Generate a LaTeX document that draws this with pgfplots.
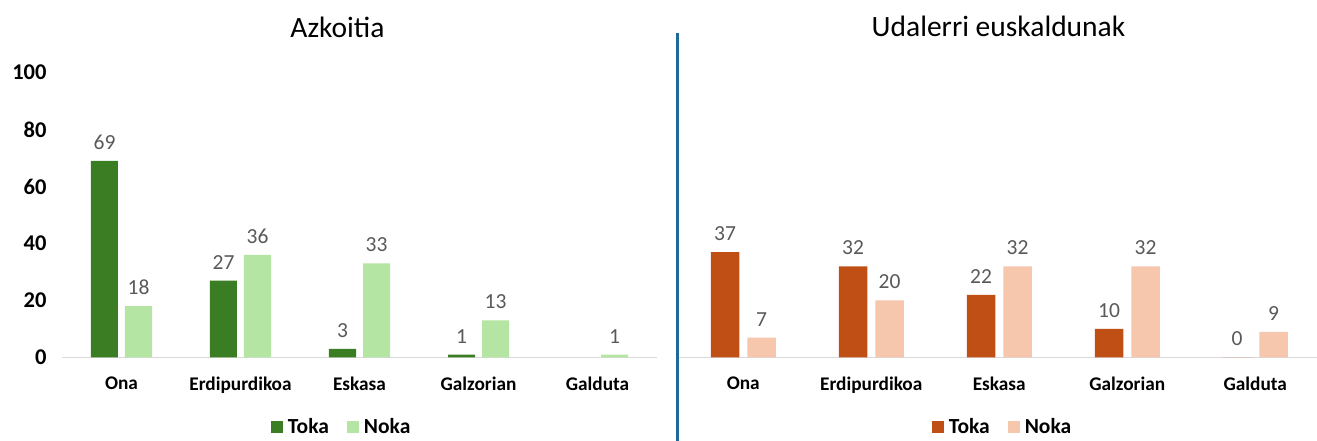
\documentclass[border=0pt]{standalone}
\usepackage{fontspec}
\setmainfont{Carlito}
\usepackage{pgfplots}
\pgfplotsset{compat=1.18}
\definecolor{tokaG}{HTML}{3A7D22}
\definecolor{nokaG}{HTML}{B4E5A2}
\definecolor{tokaO}{HTML}{C04F15}
\definecolor{nokaO}{HTML}{F6C6AD}
\definecolor{valgray}{HTML}{595959}
\definecolor{sepblue}{HTML}{1F6A94}
\definecolor{basegray}{HTML}{D9D9D9}
\pgfplotsset{
  /pgf/number format/assume math mode=true,
  panel/.style={
    scale only axis, height=285pt, anchor=south west,
    ybar, ymin=0, ymax=100, xmin=-0.5, xmax=4.5,
    xtick={0,1,2,3,4},
    xticklabels={Ona,Erdipurdikoa,Eskasa,Galzorian,Galduta},
    x tick label style={font=\fontsize{19.3}{21}\selectfont\bfseries, yshift=-12pt},
    axis x line*=bottom,
    x axis line style={draw=basegray, line width=1.5pt, -},
    tick style={draw=none},
    nodes near coords,
    every node near coord/.append style={font=\fontsize{21.5}{23}\selectfont, color=valgray, yshift=8pt},
    legend columns=2,
    legend style={draw=none, fill=none, anchor=center,
      font=\fontsize{21.5}{24}\selectfont\bfseries,
      /tikz/every even column/.append style={column sep=16pt}},
    legend image code/.code={\fill[##1] (0pt,-6pt) rectangle (12pt,6pt); \path (15pt,0pt);},
    clip=false,
  }
}
\begin{document}
\begin{tikzpicture}[x=1pt,y=1pt]
\path[use as bounding box] (0,0) rectangle (1317,441);
% left panel
\begin{axis}[panel, width=595pt, at={(62pt,83.5pt)},
  bar width=27pt,
  axis y line*=left, y axis line style={draw=none},
  ytick={0,20,40,60,80,100},
  y tick label style={font=\fontsize{22.5}{24}\selectfont\bfseries, xshift=-12pt},
  legend style={at={(0.47,-0.244)}}]
\addplot[fill=tokaG, draw=none, bar shift=-17pt] coordinates {(0,69) (1,27) (2,3) (3,1)};
\addplot[fill=nokaG, draw=none, bar shift=17pt] coordinates {(0,18) (1,36) (2,33) (3,13) (4,1)};
\legend{Toka,Noka}
\end{axis}
% right panel
\begin{axis}[panel, width=640pt, at={(679.25pt,83.5pt)},
  bar width=28.5pt,
  axis y line=none,
  legend style={at={(0.505,-0.244)}}]
\addplot[fill=tokaO, draw=none, bar shift=-18.25pt] coordinates {(0,37) (1,32) (2,22) (3,10) (4,0)};
\addplot[fill=nokaO, draw=none, bar shift=18.25pt] coordinates {(0,7) (1,20) (2,32) (3,32) (4,9)};
\legend{Toka,Noka}
\end{axis}
% titles
\node[anchor=base, font=\fontsize{29.5}{32}\selectfont] at (337.5,403) {Azkoitia};
\node[anchor=base, font=\fontsize{29.5}{32}\selectfont] at (998.5,404) {Udalerri euskaldunak};
% separator
\draw[sepblue, line width=3pt] (677.5,0) -- (677.5,408);
\end{tikzpicture}
\end{document}
